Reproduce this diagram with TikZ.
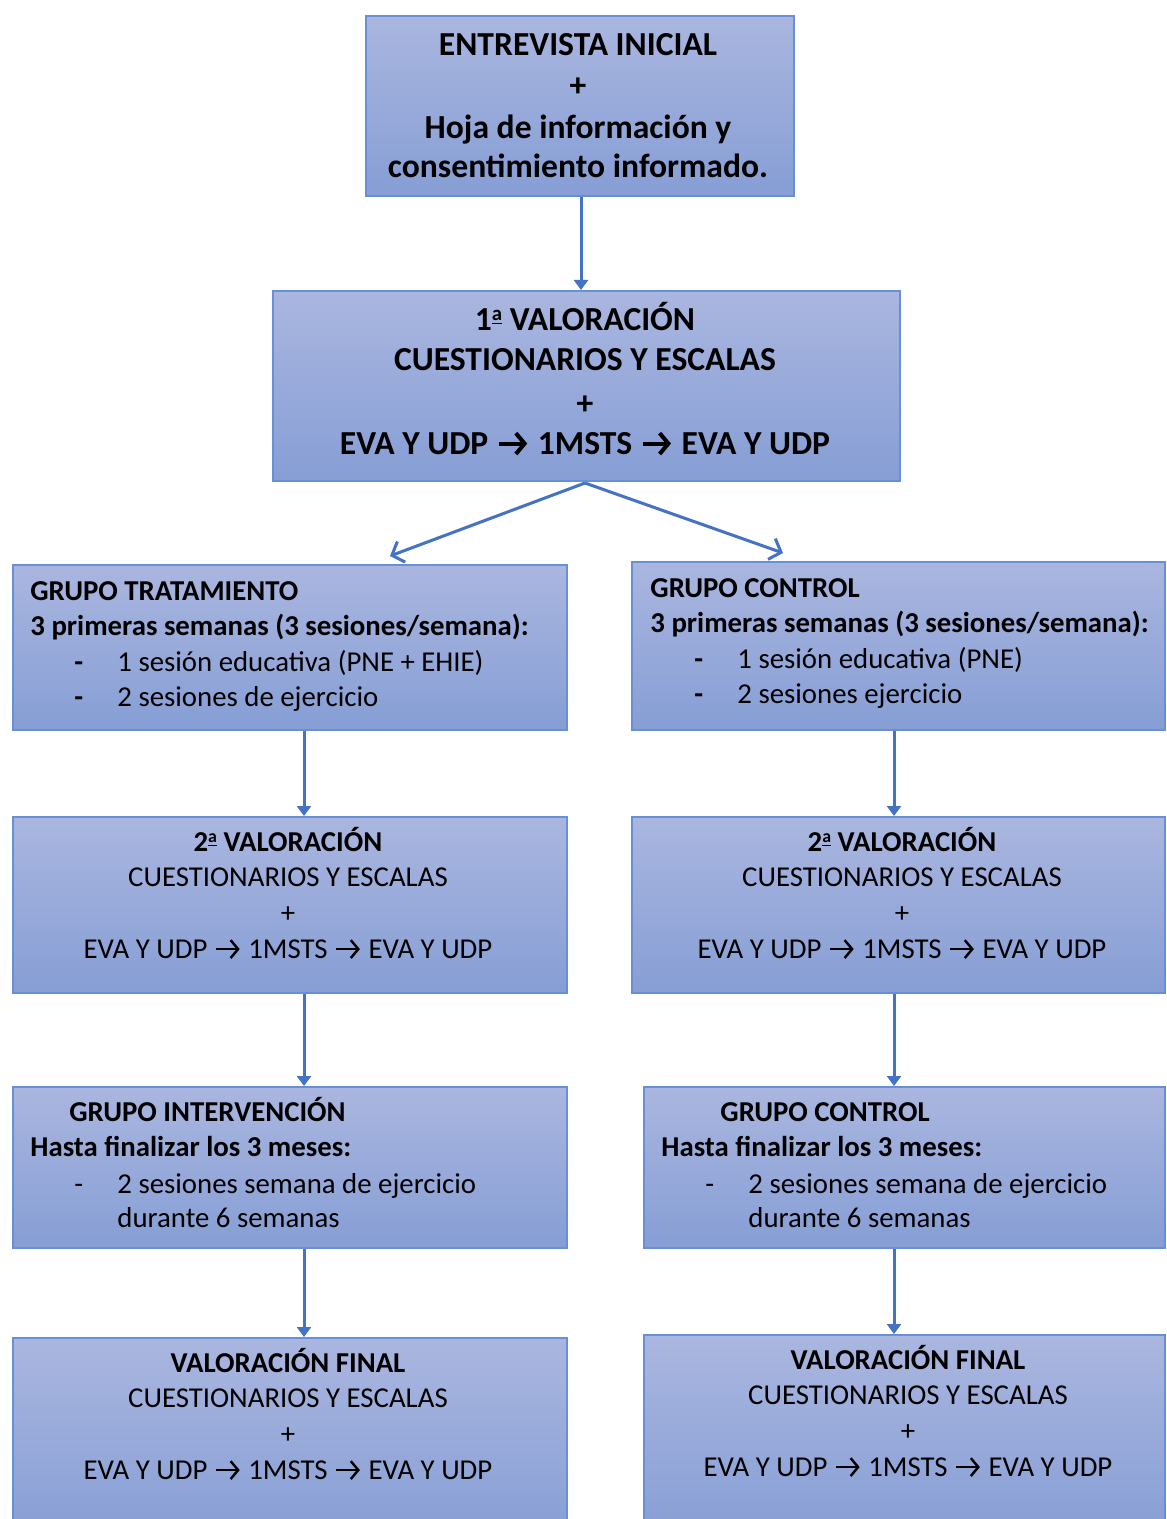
\documentclass[tikz,border=0pt]{standalone}
\usepackage{fontspec}
\setmainfont{Carlito}
\usetikzlibrary{arrows.meta}
\definecolor{boxtop}{HTML}{AAB6DF}
\definecolor{boxbot}{HTML}{869ED5}
\definecolor{boxline}{HTML}{6890D6}
\definecolor{arrowc}{HTML}{4472C4}
\newcommand{\bigf}{\fontsize{16.8pt}{20pt}\selectfont}
\newcommand{\smf}{\fontsize{14.4pt}{17pt}\selectfont}
\newcommand{\ra}{\hspace{0.03em}\tikz[baseline=-0.31em]\draw[line width=0.085em, line cap=butt, -{Straight Barb[length=0.26em,width=0.62em,line width=0.085em]}] (0em,0em) -- (0.82em,0em);\hspace{0.03em}}
\newcommand{\rab}{\hspace{0.03em}\tikz[baseline=-0.31em]\draw[line width=0.12em, line cap=butt, -{Straight Barb[length=0.26em,width=0.62em,line width=0.12em]}] (0em,0em) -- (0.84em,0em);\hspace{0.03em}}
\newcommand{\orda}{\raisebox{0.3em}{\underline{\fontsize{0.62em}{0.7em}\selectfont a}}}
\tikzset{
  box/.style={draw=boxline, line width=1pt, top color=boxtop, bottom color=boxbot, rectangle, inner sep=0pt},
  txt/.style={inner sep=0pt, anchor=base},
  txtl/.style={inner sep=0pt, anchor=base west},
  arr/.style={draw=arrowc, line width=1.5pt, -{Triangle[length=5pt,width=7pt]}},
  varr/.style={draw=arrowc, line width=1.5pt, -{Straight Barb[length=5pt,width=11pt,line width=1.5pt]}}
}
\begin{document}
\begin{tikzpicture}[x=0.5pt,y=-0.5pt]
\path[use as bounding box, clip] (0,0) rectangle (1166,1519);
\fill[white] (0,0) rectangle (1166,1519);

% boxes
\node[box, minimum width=214pt, minimum height=90pt] (b1) at (580,106) {};
\node[box, minimum width=313.5pt, minimum height=95pt] (b2) at (586.5,386) {};
\node[box, minimum width=277pt, minimum height=82.5pt] (b3l) at (290,647.5) {};
\node[box, minimum width=266.5pt, minimum height=84pt] (b3r) at (898.5,646) {};
\node[box, minimum width=277pt, minimum height=88pt] (b4l) at (290,905) {};
\node[box, minimum width=266.5pt, minimum height=88pt] (b4r) at (898.5,905) {};
\node[box, minimum width=277pt, minimum height=80.5pt] (b5l) at (290,1167.5) {};
\node[box, minimum width=260.5pt, minimum height=80.5pt] (b5r) at (904.5,1167.5) {};
\node[box, minimum width=277pt, minimum height=101pt] (b6l) at (290,1439) {};
\node[box, minimum width=260.5pt, minimum height=102.5pt] (b6r) at (904.5,1437.5) {};

% texts: top
\node[txt, font=\bigf\bfseries] (t1a) at (578,56) {ENTREVISTA INICIAL};
\node[txt, font=\bigf\bfseries] (t1b) at (578,97) {+};
\node[txt, font=\bigf\bfseries] (t1c) at (578,139) {Hoja de información y};
\node[txt, font=\bigf\bfseries] (t1d) at (578,178) {consentimiento informado.};

% box 2
\node[txt, font=\bigf\bfseries] (t2a) at (585,331) {1\orda{} VALORACIÓN};
\node[txt, font=\bigf\bfseries] (t2b) at (585,371) {CUESTIONARIOS Y ESCALAS};
\node[txt, font=\bigf\bfseries] (t2c) at (585,415) {+};
\node[txt, font=\bigf\bfseries] (t2d) at (585,454) {EVA Y UDP \rab{} 1MSTS \rab{} EVA Y UDP};

% box 3 left
\node[txtl, font=\smf\bfseries] (t3la) at (30,600) {GRUPO TRATAMIENTO};
\node[txtl, font=\smf\bfseries] (t3lb) at (30,635) {3 primeras semanas (3 sesiones/semana):};
\node[txtl, font=\smf\bfseries] (t3lc) at (74,671) {-};
\node[txtl, font=\smf] (t3ld) at (117,671) {1 sesión educativa (PNE + EHIE)};
\node[txtl, font=\smf\bfseries] (t3le) at (74,706) {-};
\node[txtl, font=\smf] (t3lf) at (117,706) {2 sesiones de ejercicio};

% box 3 right
\node[txtl, font=\smf\bfseries] (t3ra) at (650,597) {GRUPO CONTROL};
\node[txtl, font=\smf\bfseries] (t3rb) at (650,632) {3 primeras semanas (3 sesiones/semana):};
\node[txtl, font=\smf\bfseries] (t3rc) at (694,668) {-};
\node[txtl, font=\smf] (t3rd) at (737,668) {1 sesión educativa (PNE)};
\node[txtl, font=\smf\bfseries] (t3re) at (694,703) {-};
\node[txtl, font=\smf] (t3rf) at (737,703) {2 sesiones ejercicio};

% box 4 left
\node[txt, font=\smf\bfseries] (t4la) at (288,851) {2\orda{} VALORACIÓN};
\node[txt, font=\smf] (t4lb) at (288,886) {CUESTIONARIOS Y ESCALAS};
\node[txt, font=\smf] (t4lc) at (288,922) {+};
\node[txt, font=\smf] (t4ld) at (288,958) {EVA Y UDP \ra{} 1MSTS \ra{} EVA Y UDP};

% box 4 right
\node[txt, font=\smf\bfseries] (t4ra) at (902,851) {2\orda{} VALORACIÓN};
\node[txt, font=\smf] (t4rb) at (902,886) {CUESTIONARIOS Y ESCALAS};
\node[txt, font=\smf] (t4rc) at (902,922) {+};
\node[txt, font=\smf] (t4rd) at (902,958) {EVA Y UDP \ra{} 1MSTS \ra{} EVA Y UDP};

% box 5 left
\node[txtl, font=\smf\bfseries] (t5la) at (69,1121) {GRUPO INTERVENCIÓN};
\node[txtl, font=\smf\bfseries] (t5lb) at (30,1156) {Hasta finalizar los 3 meses:};
\node[txtl, font=\smf] (t5lc) at (74,1193) {-};
\node[txtl, font=\smf] (t5ld) at (117,1193) {2 sesiones semana de ejercicio};
\node[txtl, font=\smf] (t5le) at (117,1227) {durante 6 semanas};

% box 5 right
\node[txtl, font=\smf\bfseries] (t5ra) at (720,1121) {GRUPO CONTROL};
\node[txtl, font=\smf\bfseries] (t5rb) at (661,1156) {Hasta finalizar los 3 meses:};
\node[txtl, font=\smf] (t5rc) at (705,1193) {-};
\node[txtl, font=\smf] (t5rd) at (748,1193) {2 sesiones semana de ejercicio};
\node[txtl, font=\smf] (t5re) at (748,1227) {durante 6 semanas};

% box 6 left
\node[txt, font=\smf\bfseries] (t6la) at (288,1372) {VALORACIÓN FINAL};
\node[txt, font=\smf] (t6lb) at (288,1407) {CUESTIONARIOS Y ESCALAS};
\node[txt, font=\smf] (t6lc) at (288,1443) {+};
\node[txt, font=\smf] (t6ld) at (288,1479) {EVA Y UDP \ra{} 1MSTS \ra{} EVA Y UDP};

% box 6 right
\node[txt, font=\smf\bfseries] (t6ra) at (908,1369) {VALORACIÓN FINAL};
\node[txt, font=\smf] (t6rb) at (908,1404) {CUESTIONARIOS Y ESCALAS};
\node[txt, font=\smf] (t6rc) at (908,1440) {+};
\node[txt, font=\smf] (t6rd) at (908,1476) {EVA Y UDP \ra{} 1MSTS \ra{} EVA Y UDP};

% connectors
\coordinate (xm) at (581,0);
\coordinate (xl) at (304,0);
\coordinate (xr) at (894,0);
\coordinate (split) at (585,483);
\coordinate (endl) at (390,556);
\coordinate (endr) at (783,553);

\draw[arr] (b1.south -| xm) -- (b2.north -| xm);
\draw[varr] (split) -- (endl);
\draw[varr] (split) -- (endr);
\draw[arr] (b3l.south -| xl) -- (b4l.north -| xl);
\draw[arr] (b3r.south -| xr) -- (b4r.north -| xr);
\draw[arr] (b4l.south -| xl) -- (b5l.north -| xl);
\draw[arr] (b4r.south -| xr) -- (b5r.north -| xr);
\draw[arr] (b5l.south -| xl) -- (b6l.north -| xl);
\draw[arr] (b5r.south -| xr) -- (b6r.north -| xr);
\end{tikzpicture}
\end{document}
